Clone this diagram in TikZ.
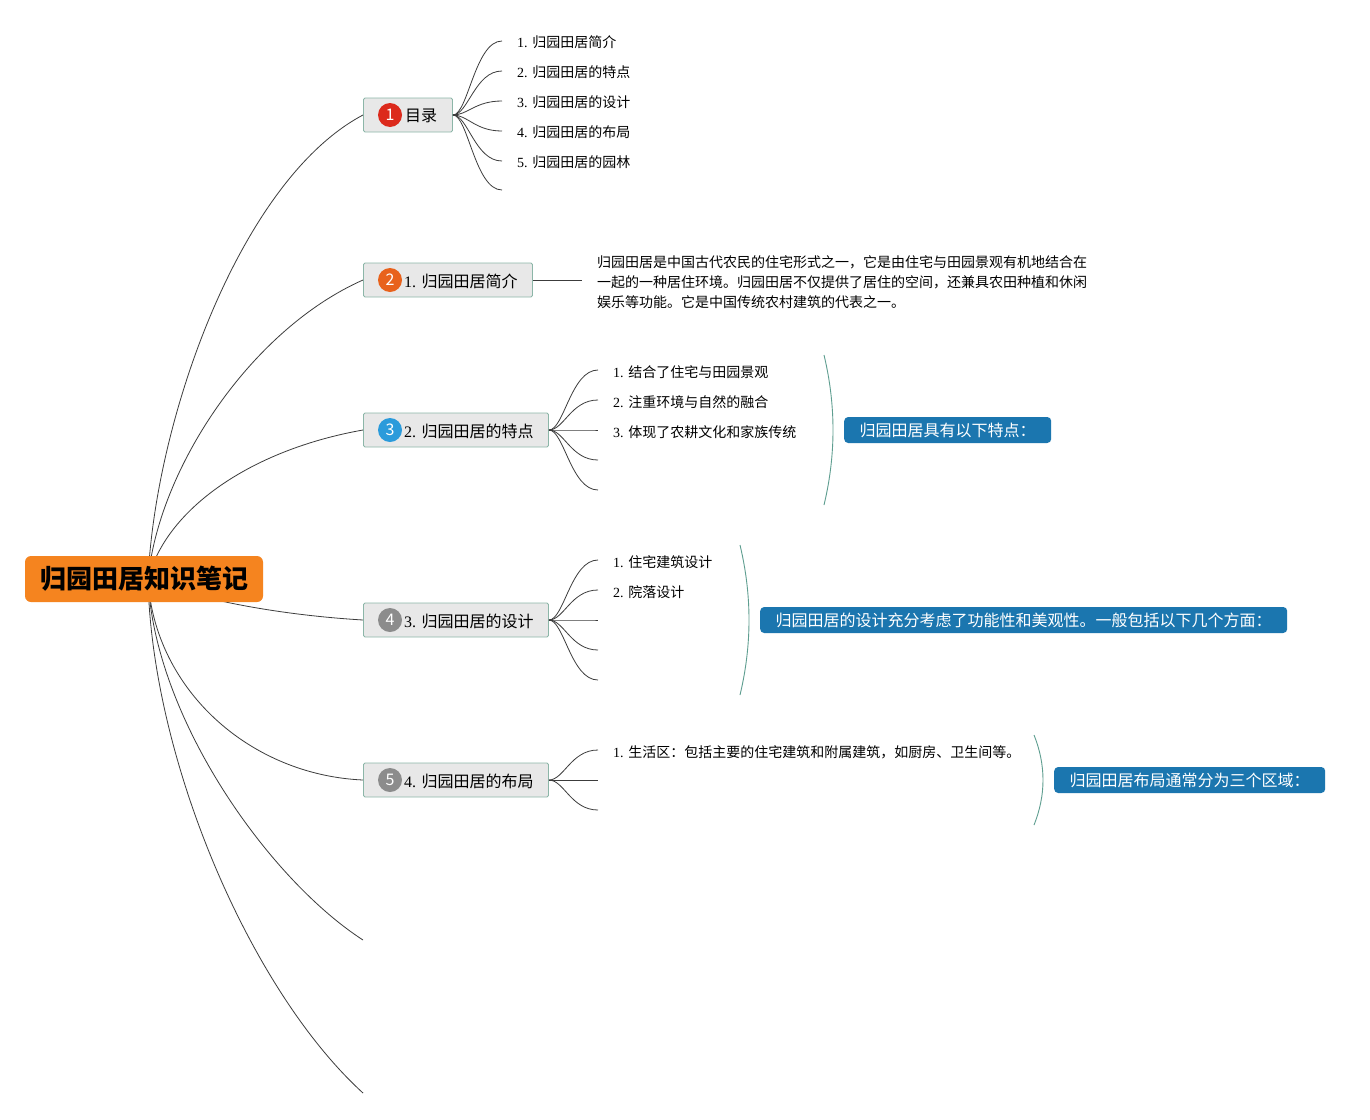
\documentclass[tikz,border=0pt]{standalone}
\usepackage{fontspec}
\setmainfont{Liberation Serif}
\newfontfamily\cjk{Noto Sans CJK SC}
\usetikzlibrary{calc}
\definecolor{rootor}{HTML}{F5841F}
\definecolor{linec}{HTML}{3C3C3C}
\definecolor{boxfill}{HTML}{E8E8E8}
\definecolor{boxbd}{HTML}{8CB6A8}
\definecolor{bred}{HTML}{DC2A1C}
\definecolor{borange}{HTML}{E8621C}
\definecolor{bblue}{HTML}{2B9BDB}
\definecolor{bgray}{HTML}{8C8C8C}
\definecolor{noteblue}{HTML}{1B76AF}
\definecolor{bracec}{HTML}{5E9E90}
\begin{document}
\begin{tikzpicture}[x=1pt,y=-1pt,
  conn/.style={draw=linec, line width=0.8pt},
  branch/.style={draw=boxbd, fill=boxfill, line width=0.9pt, rounded corners=1.5pt, minimum height=34pt, inner sep=0pt, anchor=west},
  badge/.style={circle, inner sep=0pt, minimum size=24pt, text=white, font=\cjk\fontsize{16}{16}\selectfont},
  blabel/.style={anchor=west, inner sep=0pt, font=\fontsize{16}{18}\selectfont},
  item/.style={anchor=west, inner sep=0pt, font=\fontsize{14}{16}\selectfont},
  note/.style={fill=noteblue, text=white, rounded corners=4pt, minimum height=26pt, inner xsep=15.5pt, inner ysep=0pt, anchor=west, font=\cjk\fontsize{16}{18}\selectfont},
  bracket/.style={draw=bracec, line width=0.9pt}
]
\useasboundingbox (0,0) rectangle (1370,1119);
\fill[white] (0,0) rectangle (1370,1119);

% branch boxes
\node[branch, minimum width=89pt] (b1) at (363,115) {};
\node[branch, minimum width=169pt] (b2) at (363,280) {};
\node[branch, minimum width=185pt] (b3) at (363,430) {};
\node[branch, minimum width=185pt] (b4) at (363,620) {};
\node[branch, minimum width=185pt] (b5) at (363,780) {};

\node[badge, fill=bred] (g1) at (390,115) {1};
\node[badge, fill=borange] (g2) at (390,280) {2};
\node[badge, fill=bblue] (g3) at (390,430) {3};
\node[badge, fill=bgray] (g4) at (390,620) {4};
\node[badge, fill=bgray] (g5) at (390,780) {5};

\node[blabel] (l1) at (405,116) {\cjk 目录};
\node[blabel] (l2) at (404,281) {1. {\cjk 归园田居简介}};
\node[blabel] (l3) at (404,431) {2. {\cjk 归园田居的特点}};
\node[blabel] (l4) at (404,621) {3. {\cjk 归园田居的设计}};
\node[blabel] (l5) at (404,781) {4. {\cjk 归园田居的布局}};

% root connectors
\coordinate (rs) at (148,580);
\coordinate (e1) at (363,940);
\coordinate (e2) at (363,1093);
\draw[conn] (rs) .. controls (155,420) and (240,180) .. (b1.west);
\draw[conn] (rs) .. controls (158,470) and (250,330) .. (b2.west);
\draw[conn] (rs) .. controls (165,510) and (250,450) .. (b3.west);
\draw[conn] (rs) .. controls (200,600) and (280,615) .. (b4.west);
\draw[conn] (rs) .. controls (155,690) and (250,775) .. (b5.west);
\draw[conn] (rs) .. controls (155,720) and (270,880) .. (e1);
\draw[conn] (rs) .. controls (152,760) and (250,990) .. (e2);

% root
\node[fill=rootor, rounded corners=6pt, minimum width=238pt, minimum height=46pt, inner sep=0pt,
      font=\cjk\bfseries\fontsize{26}{28}\selectfont] (root) at (144,579) {归园田居知识笔记};

% section 1: contents
\foreach \i/\y in {1/41,2/71,3/101,4/131,5/161,6/190}{
  \coordinate (ta\i) at (502,\y);
  \draw[conn] (b1.east) .. controls ($(b1.east)+(15,0)$) and ($(ta\i)+(-27,0)$) .. (ta\i);
}
\node[item] (ia1) at (517,42) {1. {\cjk 归园田居简介}};
\node[item] (ia2) at (517,72) {2. {\cjk 归园田居的特点}};
\node[item] (ia3) at (517,102) {3. {\cjk 归园田居的设计}};
\node[item] (ia4) at (517,132) {4. {\cjk 归园田居的布局}};
\node[item] (ia5) at (517,162) {5. {\cjk 归园田居的园林}};

% section 2: intro
\coordinate (tb) at (582,280);
\draw[conn] (b2.east) -- (tb);
\node[anchor=west, inner sep=0pt, align=left, font=\cjk\fontsize{14}{20}\selectfont] (para) at (597,282)
 {归园田居是中国古代农民的住宅形式之一，它是由住宅与田园景观有机地结合在\\
  一起的一种居住环境。归园田居不仅提供了居住的空间，还兼具农田种植和休闲\\
  娱乐等功能。它是中国传统农村建筑的代表之一。};

% section 3: features
\foreach \i/\y in {1/370,2/400,3/430,4/460,5/490}{
  \coordinate (tc\i) at (598,\y);
  \draw[conn] (b3.east) .. controls ($(b3.east)+(15,0)$) and ($(tc\i)+(-27,0)$) .. (tc\i);
}
\node[item] (ic1) at (613,372) {1. {\cjk 结合了住宅与田园景观}};
\node[item] (ic2) at (613,402) {2. {\cjk 注重环境与自然的融合}};
\node[item] (ic3) at (613,432) {3. {\cjk 体现了农耕文化和家族传统}};
\coordinate (kc1) at (824,355);
\coordinate (kc2) at (824,505);
\draw[bracket] (kc1) .. controls ($(kc1)+(12,50)$) and ($(kc2)+(12,-50)$) .. (kc2);
\node[note] (nc) at (844,430) {归园田居具有以下特点：};

% section 4: design
\foreach \i/\y in {1/560,2/590,3/620,4/650,5/680}{
  \coordinate (td\i) at (598,\y);
  \draw[conn] (b4.east) .. controls ($(b4.east)+(15,0)$) and ($(td\i)+(-27,0)$) .. (td\i);
}
\node[item] (id1) at (613,562) {1. {\cjk 住宅建筑设计}};
\node[item] (id2) at (613,592) {2. {\cjk 院落设计}};
\coordinate (kd1) at (740,545);
\coordinate (kd2) at (740,695);
\draw[bracket] (kd1) .. controls ($(kd1)+(12,50)$) and ($(kd2)+(12,-50)$) .. (kd2);
\node[note] (nd) at (760,620) {归园田居的设计充分考虑了功能性和美观性。一般包括以下几个方面：};

% section 5: layout
\foreach \i/\y in {1/750,2/780,3/810}{
  \coordinate (te\i) at (598,\y);
  \draw[conn] (b5.east) .. controls ($(b5.east)+(15,0)$) and ($(te\i)+(-27,0)$) .. (te\i);
}
\node[item] (ie1) at (613,752) {1. {\cjk 生活区：包括主要的住宅建筑和附属建筑，如厨房、卫生间等。}};
\coordinate (ke1) at (1034,735);
\coordinate (ke2) at (1034,825);
\draw[bracket] (ke1) .. controls ($(ke1)+(12,30)$) and ($(ke2)+(12,-30)$) .. (ke2);
\node[note] (ne) at (1054,780) {归园田居布局通常分为三个区域：};
\end{tikzpicture}
\end{document}
